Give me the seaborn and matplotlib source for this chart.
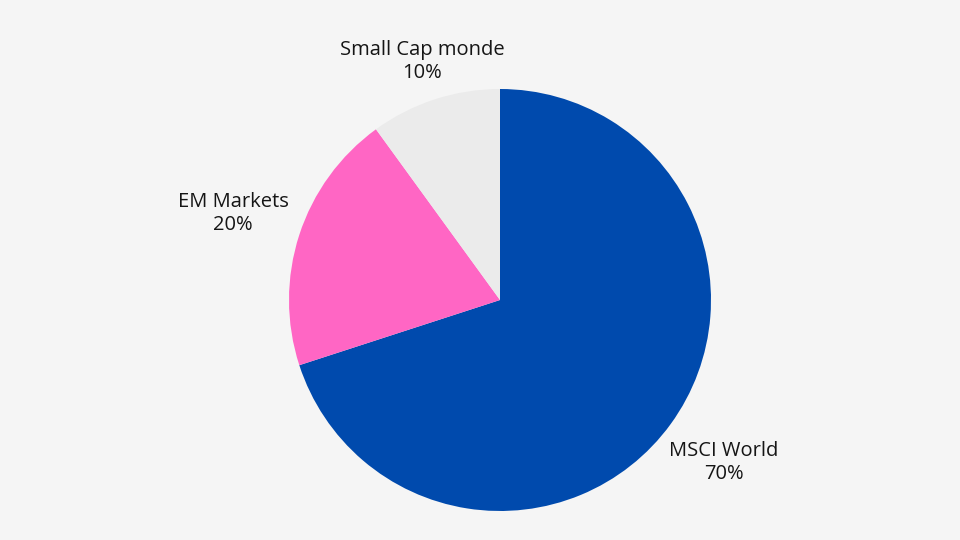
import numpy as np
import matplotlib
matplotlib.use("Agg")
import matplotlib.pyplot as plt
import seaborn as sns

categories = ["MSCI World", "EM Markets", "Small Cap monde"]
values = [70, 20, 10]
colors = ["#004AAD", "#FF66C4", "#EBEBEB"]
label_dist = [1.31, 1.33, 1.19]

sns.set_theme(style="white")
plt.rcParams['font.family'] = ['Open Sans', 'DejaVu Sans']

bg = "#F5F5F5"
fig = plt.figure(figsize=(9.6, 5.4), dpi=100, facecolor=bg)
ax = fig.add_axes([0, 0, 1, 1])
ax.set_facecolor(bg)

wedges, texts = ax.pie(values, colors=colors, startangle=90, counterclock=False,
                       center=(500, 240), radius=211,
                       labels=[f"{c}\n{v}%" for c, v in zip(categories, values)],
                       labeldistance=1.25,
                       wedgeprops=dict(linewidth=0),
                       textprops=dict(fontsize=14.5, color="#151515"))
for w, t, d in zip(wedges, texts, label_dist):
    ang = np.deg2rad((w.theta1 + w.theta2) / 2)
    t.set_position((500 + d * 211 * np.cos(ang), 240 + d * 211 * np.sin(ang)))
    t.set_ha("center")
    t.set_va("center")
    t.set_multialignment("center")
    t.set_linespacing(1.2)

ax.set_xlim(0, 960)
ax.set_ylim(0, 540)
ax.set_aspect("equal")
ax.axis("off")
fig.savefig("out.png", dpi=100, facecolor=bg)
